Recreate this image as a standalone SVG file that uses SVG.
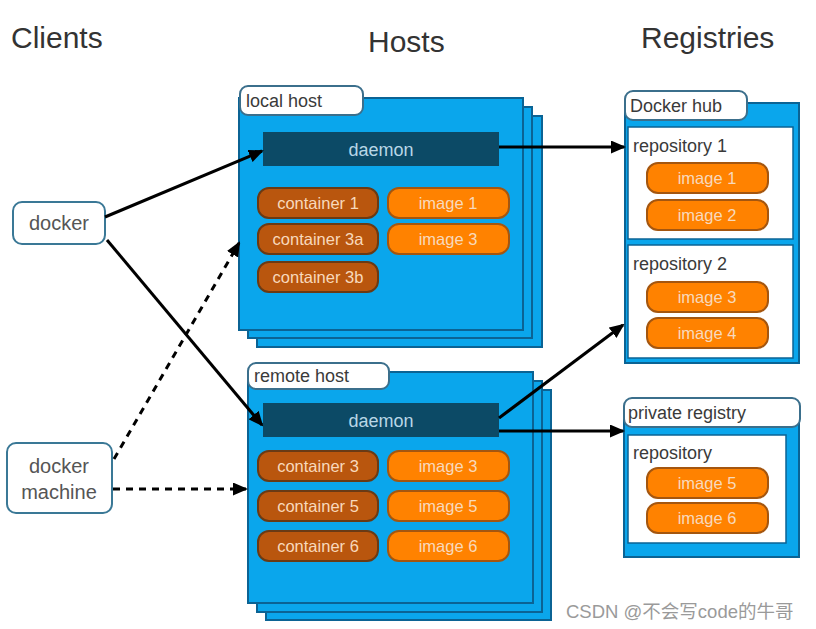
<svg xmlns="http://www.w3.org/2000/svg" width="816" height="629" viewBox="0 0 816 629">
<defs>
<style>
.title{font-family:"Liberation Sans",Arial,sans-serif;font-size:30px;fill:#333}
.host{fill:#0aa6ec;stroke:#0b6394;stroke-width:2}
.tab{fill:#fff;stroke:#3b6f8c;stroke-width:2}
.tabt{font-family:"Liberation Sans",Arial,sans-serif;font-size:18px;fill:#3a3a3a}
.daemon{fill:#0c4a66}
.dt{font-family:"Liberation Sans",Arial,sans-serif;font-size:18px;fill:#b9d7e6;text-anchor:middle}
.cont{fill:#b9560e;stroke:#6a3a14;stroke-width:2}
.img{fill:#ff8200;stroke:#a4560f;stroke-width:2}
.bt{font-family:"Liberation Sans",Arial,sans-serif;font-size:16.5px;fill:#f8d9bc;text-anchor:middle}
.repo{fill:#fff;stroke:#0b6394;stroke-width:1.5}
.rt{font-family:"Liberation Sans",Arial,sans-serif;font-size:18px;fill:#3a3a3a}
.client{fill:#fff;stroke:#3a7896;stroke-width:2}
.ct{font-family:"Liberation Sans",Arial,sans-serif;font-size:20px;fill:#555;text-anchor:middle}
.conn{stroke:#000;stroke-width:3;fill:none}
.dash{stroke-dasharray:7 6}
</style>
<marker id="ah" markerWidth="15" markerHeight="13" refX="13" refY="6.5" orient="auto" markerUnits="userSpaceOnUse" viewBox="0 0 15 13">
<path d="M0,0 L15,6.5 L0,13 z" fill="#000"/>
</marker>
</defs>
<rect width="816" height="629" fill="#fff"/>

<g id="titles">
<text class="title" x="11" y="48">Clients</text>
<text class="title" x="368" y="52">Hosts</text>
<text class="title" x="641" y="48">Registries</text>
</g>

<g id="local-host">
<rect class="host" x="257" y="116" width="285" height="231"/>
<rect class="host" x="248" y="107" width="284" height="231"/>
<rect class="host" x="239" y="98" width="284" height="232"/>
<rect class="tab" x="240" y="86" width="123" height="29" rx="8"/>
<text class="tabt" x="246" y="107">local host</text>
<rect class="daemon" x="263" y="132" width="236" height="34"/>
<text class="dt" x="381" y="156">daemon</text>
<rect class="cont" x="258" y="188" width="120" height="30" rx="11"/>
<text class="bt" x="318" y="209">container 1</text>
<rect class="cont" x="258" y="224" width="120" height="30" rx="11"/>
<text class="bt" x="318" y="245">container 3a</text>
<rect class="cont" x="258" y="262" width="120" height="30" rx="11"/>
<text class="bt" x="318" y="283">container 3b</text>
<rect class="img" x="388" y="188" width="121" height="30" rx="11"/>
<text class="bt" x="448" y="209">image 1</text>
<rect class="img" x="388" y="224" width="121" height="30" rx="11"/>
<text class="bt" x="448" y="245">image 3</text>
</g>

<g id="remote-host">
<rect class="host" x="266" y="390" width="285" height="230"/>
<rect class="host" x="257" y="381" width="285" height="231"/>
<rect class="host" x="248" y="372" width="285" height="231"/>
<rect class="tab" x="248" y="363" width="141" height="26" rx="8"/>
<text class="tabt" x="254" y="382">remote host</text>
<rect class="daemon" x="263" y="403" width="236" height="34"/>
<text class="dt" x="381" y="427">daemon</text>
<rect class="cont" x="258" y="451" width="120" height="30" rx="11"/>
<text class="bt" x="318" y="472">container 3</text>
<rect class="cont" x="258" y="491" width="120" height="30" rx="11"/>
<text class="bt" x="318" y="512">container 5</text>
<rect class="cont" x="258" y="531" width="120" height="30" rx="11"/>
<text class="bt" x="318" y="552">container 6</text>
<rect class="img" x="388" y="451" width="121" height="30" rx="11"/>
<text class="bt" x="448" y="472">image 3</text>
<rect class="img" x="388" y="491" width="121" height="30" rx="11"/>
<text class="bt" x="448" y="512">image 5</text>
<rect class="img" x="388" y="531" width="121" height="30" rx="11"/>
<text class="bt" x="448" y="552">image 6</text>
</g>

<g id="docker-hub">
<rect class="host" x="625" y="103" width="174" height="260"/>
<rect class="tab" x="625" y="91" width="122" height="29" rx="8"/>
<text class="tabt" x="630" y="112">Docker hub</text>
<rect class="repo" x="628" y="127" width="165" height="112"/>
<text class="rt" x="633" y="152">repository 1</text>
<rect class="img" x="647" y="163" width="121" height="30" rx="11"/>
<text class="bt" x="707" y="184">image 1</text>
<rect class="img" x="647" y="200" width="121" height="30" rx="11"/>
<text class="bt" x="707" y="221">image 2</text>
<rect class="repo" x="628" y="245" width="165" height="113"/>
<text class="rt" x="633" y="270">repository 2</text>
<rect class="img" x="647" y="282" width="121" height="30" rx="11"/>
<text class="bt" x="707" y="303">image 3</text>
<rect class="img" x="647" y="318" width="121" height="30" rx="11"/>
<text class="bt" x="707" y="339">image 4</text>
</g>

<g id="private-registry">
<rect class="host" x="624" y="412" width="175" height="145"/>
<rect class="tab" x="624" y="398" width="176" height="29" rx="8"/>
<text class="tabt" x="628" y="419">private registry</text>
<rect class="repo" x="628" y="435" width="158" height="108"/>
<text class="rt" x="633" y="459">repository</text>
<rect class="img" x="647" y="468" width="121" height="30" rx="11"/>
<text class="bt" x="707" y="489">image 5</text>
<rect class="img" x="647" y="503" width="121" height="30" rx="11"/>
<text class="bt" x="707" y="524">image 6</text>
</g>

<g id="docker">
<rect class="client" x="13" y="202" width="92" height="42" rx="9"/>
<text class="ct" x="59" y="230">docker</text>
</g>

<g id="docker-machine">
<rect class="client" x="7" y="443" width="105" height="70" rx="9"/>
<text class="ct" x="59" y="473">docker</text>
<text class="ct" x="59" y="499">machine</text>
</g>

<g id="connectors">
<line class="conn" x1="105" y1="217" x2="262" y2="151" marker-end="url(#ah)"/>
<line class="conn" x1="107" y1="240" x2="262" y2="425" marker-end="url(#ah)"/>
<line class="conn dash" x1="114" y1="459" x2="239" y2="243" marker-end="url(#ah)"/>
<line class="conn dash" x1="113" y1="489" x2="246" y2="489" marker-end="url(#ah)"/>
<line class="conn" x1="499" y1="147" x2="624" y2="147" marker-end="url(#ah)"/>
<line class="conn" x1="499" y1="418" x2="623" y2="325" marker-end="url(#ah)"/>
<line class="conn" x1="499" y1="431" x2="623" y2="431" marker-end="url(#ah)"/>
</g>

<g id="watermark">
<text x="566" y="618" font-family="'Liberation Sans','Noto Sans CJK SC',sans-serif" font-size="18.5" fill="#9a9a9a">CSDN @不会写code的牛哥</text>
</g>
</svg>
